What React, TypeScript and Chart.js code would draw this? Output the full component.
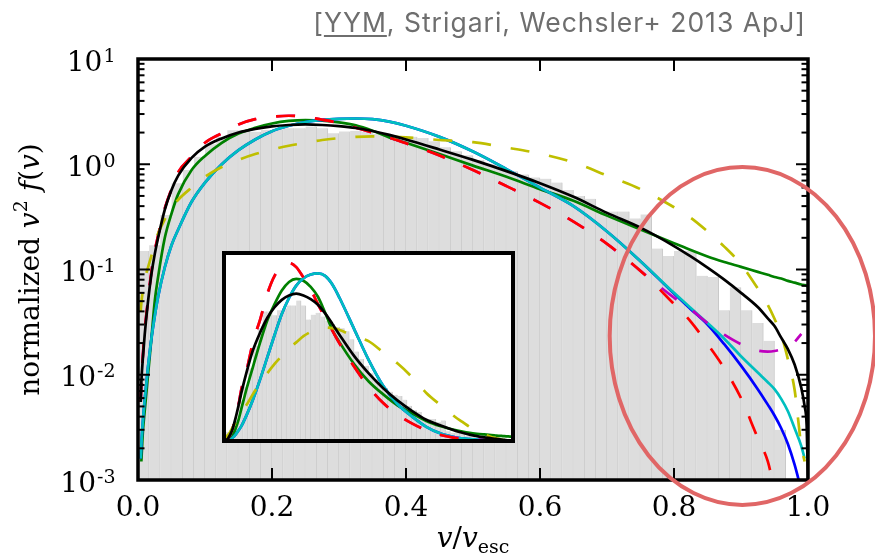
import { useEffect, useRef } from 'react';
import { Chart, registerables } from 'chart.js';

Chart.register(...registerables);

// ---- Halo speed distribution: histogram of normalized v^2 f(v), 60 equal bins on [0, 1] ----
const BIN_COUNT = 60;
const HIST = [
  0.15, 0.17, 0.33, 0.66, 0.88, 1.18, 1.55, 1.83, 2.1, 2.1,
  2.04, 2.12, 2.15, 2.2, 2.2, 2.28, 2.2, 1.97, 2.05, 2.08,
  2.02, 1.95, 1.9, 1.85, 1.83, 1.78, 1.65, 1.45, 1.33, 1.22,
  1.1, 1.0, 0.93, 0.86, 0.8, 0.75, 0.73, 0.67, 0.57, 0.5,
  0.47, 0.355, 0.355, 0.355, 0.306, 0.334, 0.158, 0.134, 0.15, 0.15,
  0.087, 0.085, 0.041, 0.068, 0.041, 0.031, 0.021, 0.003, 0, 0,
];

// ---- Model curves, sampled at v / v_esc ----
const V = [
  0.004, 0.005, 0.0075, 0.01, 0.015, 0.02, 0.025, 0.03, 0.04, 0.05,
  0.06, 0.08, 0.1, 0.125, 0.15, 0.175, 0.2, 0.225, 0.25, 0.275,
  0.3, 0.325, 0.35, 0.375, 0.4, 0.45, 0.5, 0.55, 0.6, 0.65,
  0.7, 0.75, 0.8, 0.825, 0.85, 0.875, 0.9, 0.925, 0.94, 0.95,
  0.96, 0.97, 0.98, 0.99, 0.995, 0.998, 1.0,
];

const BLACK = [
  0.0055, 0.0085, 0.015, 0.024, 0.05, 0.09, 0.14, 0.2, 0.37, 0.57,
  0.78, 1.15, 1.47, 1.76, 2.0, 2.17, 2.29, 2.36, 2.39, 2.36,
  2.3, 2.21, 2.07, 1.9, 1.72, 1.38, 1.1, 0.86, 0.66, 0.49,
  0.345, 0.25, 0.167, 0.133, 0.104, 0.08, 0.06, 0.044, 0.0343, 0.029,
  0.0225, 0.0175, 0.0125, 0.0075, 0.005, 0.0033, 0.001,
];

const RED = [
  0.0055, 0.0085, 0.016, 0.026, 0.052, 0.095, 0.15, 0.21, 0.38, 0.58,
  0.84, 1.18, 1.6, 1.97, 2.39, 2.68, 2.82, 2.89, 2.82, 2.65,
  2.46, 2.22, 2.0, 1.79, 1.58, 1.21, 0.88, 0.62, 0.43, 0.285,
  0.175, 0.097, 0.047, 0.032, 0.0196, 0.0115, 0.006, 0.0025, 0.0015, 0.0008,
  null, null, null, null, null, null, null,
];

const MAGENTA = [
  0.0055, 0.0085, 0.016, 0.026, 0.052, 0.095, 0.15, 0.21, 0.38, 0.58,
  0.84, 1.18, 1.6, 1.97, 2.39, 2.68, 2.82, 2.89, 2.82, 2.65,
  2.46, 2.22, 2.0, 1.79, 1.58, 1.21, 0.88, 0.62, 0.43, 0.285,
  0.175, 0.097, 0.054, 0.042, 0.031, 0.024, 0.0195, 0.017, 0.0166, 0.0168,
  0.0174, 0.018, 0.0205, 0.0245, null, null, null,
];

const CYAN = [
  0.0016, 0.0022, 0.0038, 0.0058, 0.012, 0.022, 0.036, 0.055, 0.105, 0.17,
  0.24, 0.44, 0.67, 1.0, 1.36, 1.72, 2.06, 2.32, 2.52, 2.64,
  2.7, 2.72, 2.68, 2.54, 2.32, 1.82, 1.32, 0.9, 0.6, 0.4,
  0.23, 0.12, 0.06, 0.043, 0.031, 0.022, 0.015, 0.0105, 0.0085, 0.0073,
  0.0059, 0.0045, 0.0031, 0.0021, 0.0016, null, null,
];

const BLUE = [
  0.0016, 0.0022, 0.0038, 0.0058, 0.012, 0.022, 0.036, 0.055, 0.105, 0.17,
  0.24, 0.44, 0.67, 1.0, 1.36, 1.72, 2.06, 2.32, 2.52, 2.64,
  2.7, 2.72, 2.68, 2.54, 2.32, 1.82, 1.32, 0.9, 0.6, 0.4,
  0.23, 0.12, 0.059, 0.042, 0.03, 0.0195, 0.0122, 0.0073, 0.0052, 0.0041,
  0.0031, 0.0022, 0.0014, 0.0008, null, null, null,
];

const GREEN = [
  null, 0.0015, 0.003, 0.0045, 0.01, 0.022, 0.05, 0.085, 0.2, 0.34,
  0.52, 0.88, 1.2, 1.6, 1.96, 2.22, 2.44, 2.58, 2.63, 2.6,
  2.5, 2.34, 2.08, 1.8, 1.6, 1.25, 0.97, 0.76, 0.58, 0.45,
  0.325, 0.24, 0.178, 0.153, 0.133, 0.118, 0.106, 0.095, 0.089, 0.085,
  0.082, 0.078, 0.075, 0.072, 0.071, 0.07, 0.069,
];

const YELLOW = [
  0.04, 0.048, 0.065, 0.08, 0.105, 0.135, 0.18, 0.22, 0.3, 0.38,
  0.46, 0.6, 0.76, 0.94, 1.1, 1.25, 1.38, 1.5, 1.6, 1.7,
  1.77, 1.82, 1.84, 1.83, 1.8, 1.7, 1.62, 1.44, 1.26, 1.04,
  0.78, 0.58, 0.39, 0.31, 0.23, 0.165, 0.112, 0.066, 0.046, 0.034,
  0.024, 0.014, 0.0072, 0.0021, 0.0015, null, null,
];

// ---- Axes ----
const X_TICKS = [0, 0.2, 0.4, 0.6, 0.8, 1.0];
const X_TICK_LABELS = ['0.0', '0.2', '0.4', '0.6', '0.8', '1.0'];
const Y_DECADES = [1, 0, -1, -2, -3];
const Y_DECADE_LABELS = ['1', '0', '-1', '-2', '-3'];
const INSET_Y_MAX = 3.05;

// Highlighted tail region (data coordinates of the bounding box)
const HIGHLIGHT = { vMin: 0.704, vMax: 1.1, yMin: 0.00058, yMax: 0.94 };

const TITLE_AUTHOR = 'YYM';
const TITLE_REST = ', Strigari, Wechsler+ 2013 ApJ]';

const SERIF = '"DejaVu Serif", serif';

function curve(values: (number | null)[], color: string, dashed = false) {
  return {
    type: 'line' as const,
    data: V.map((v, i) => ({ x: v, y: values[i] })),
    borderColor: color,
    borderWidth: 2.7,
    borderDash: dashed ? [19, 20] : [],
    pointRadius: 0,
    fill: false,
    cubicInterpolationMode: 'monotone' as const,
    spanGaps: false,
  };
}

function histogram() {
  return {
    type: 'bar' as const,
    data: HIST.map((h, i) => ({ x: (i + 0.5) / BIN_COUNT, y: h })).filter((p) => p.y > 0),
    backgroundColor: '#dddddd',
    borderColor: '#c9c9c9',
    borderWidth: { top: 0, bottom: 0, left: 0, right: 1 },
    borderSkipped: false,
    barPercentage: 1,
    categoryPercentage: 1,
    grouped: false,
  };
}

// first dataset is drawn on top
function datasets() {
  return [
    curve(BLACK, '#000000'),
    curve(YELLOW, '#bfbf00', true),
    curve(RED, '#ff0000', true),
    curve(MAGENTA, '#bf00bf', true),
    curve(CYAN, '#00bfbf'),
    curve(BLUE, '#0000ff'),
    curve(GREEN, '#008000'),
    histogram(),
  ];
}

type Piece = { t: string; f: string; dy?: number };

function drawPieces(ctx: CanvasRenderingContext2D, pieces: Piece[], cx: number, baseY: number) {
  let total = 0;
  const widths = pieces.map((p) => {
    ctx.font = p.f;
    const w = ctx.measureText(p.t).width;
    total += w;
    return w;
  });
  let x = cx - total / 2;
  ctx.textAlign = 'left';
  ctx.textBaseline = 'alphabetic';
  pieces.forEach((p, i) => {
    ctx.font = p.f;
    ctx.fillText(p.t, x, baseY + (p.dy || 0));
    x += widths[i];
  });
}

const mainDecor = {
  id: 'mainDecor',
  afterDraw(chart: any) {
    const ctx: CanvasRenderingContext2D = chart.ctx;
    const xs = chart.scales.x;
    const ys = chart.scales.y;
    const { left, right, top, bottom } = chart.chartArea;
    ctx.save();
    ctx.strokeStyle = '#000';
    ctx.fillStyle = '#000';
    ctx.lineCap = 'butt';

    const seg = (x1: number, y1: number, x2: number, y2: number) => {
      ctx.beginPath();
      ctx.moveTo(x1, y1);
      ctx.lineTo(x2, y2);
      ctx.stroke();
    };

    // ticks pointing inwards on all four sides
    ctx.lineWidth = 2;
    X_TICKS.forEach((v) => {
      const px = xs.getPixelForValue(v);
      seg(px, bottom, px, bottom - 12);
      seg(px, top, px, top + 12);
    });
    Y_DECADES.forEach((e) => {
      const py = ys.getPixelForValue(Math.pow(10, e));
      seg(left, py, left + 12, py);
      seg(right, py, right - 12, py);
      if (e < 1) {
        for (let m = 2; m <= 9; m++) {
          const pm = ys.getPixelForValue(m * Math.pow(10, e));
          seg(left, pm, left + 6.5, pm);
          seg(right, pm, right - 6.5, pm);
        }
      }
    });

    // frame
    ctx.lineWidth = 3.5;
    ctx.strokeRect(left, top, right - left, bottom - top);

    // x tick labels
    ctx.font = `28px ${SERIF}`;
    ctx.textAlign = 'center';
    ctx.textBaseline = 'alphabetic';
    X_TICKS.forEach((v, i) => {
      ctx.fillText(X_TICK_LABELS[i], xs.getPixelForValue(v), bottom + 36);
    });

    // y tick labels: 10 with a raised exponent
    const labelRight = left - 22.5;
    Y_DECADES.forEach((e, i) => {
      const py = ys.getPixelForValue(Math.pow(10, e));
      ctx.textAlign = 'right';
      ctx.font = `19px ${SERIF}`;
      const expText = Y_DECADE_LABELS[i];
      const ew = ctx.measureText(expText).width;
      ctx.fillText(expText, labelRight, py + 2.5);
      ctx.font = `28px ${SERIF}`;
      ctx.fillText('10', labelRight - ew - 1, py + 11.5);
    });

    // axis titles
    drawPieces(
      ctx,
      [
        { t: 'v', f: `italic 28px ${SERIF}` },
        { t: '/', f: `28px ${SERIF}` },
        { t: 'v', f: `italic 28px ${SERIF}` },
        { t: 'esc', f: `19px ${SERIF}`, dy: 6 },
      ],
      (left + right) / 2,
      547
    );

    ctx.save();
    ctx.translate(38.5, (top + bottom) / 2);
    ctx.rotate(-Math.PI / 2);
    drawPieces(
      ctx,
      [
        { t: 'normalized ', f: `28px ${SERIF}` },
        { t: 'v', f: `italic 28px ${SERIF}` },
        { t: '2', f: `19px ${SERIF}`, dy: -12 },
        { t: ' ', f: `28px ${SERIF}` },
        { t: 'f', f: `italic 28px ${SERIF}` },
        { t: '(', f: `28px ${SERIF}` },
        { t: 'v', f: `italic 28px ${SERIF}` },
        { t: ')', f: `28px ${SERIF}` },
      ],
      0,
      0
    );
    ctx.restore();

    // highlighted tail region
    const x1 = xs.getPixelForValue(HIGHLIGHT.vMin);
    const x2 = xs.getPixelForValue(HIGHLIGHT.vMax);
    const y1 = ys.getPixelForValue(HIGHLIGHT.yMax);
    const y2 = ys.getPixelForValue(HIGHLIGHT.yMin);
    ctx.beginPath();
    ctx.ellipse((x1 + x2) / 2, (y1 + y2) / 2, (x2 - x1) / 2, (y2 - y1) / 2, 0, 0, Math.PI * 2);
    ctx.strokeStyle = '#e06666';
    ctx.lineWidth = 4;
    ctx.stroke();

    ctx.restore();
  },
};

const insetDecor = {
  id: 'insetDecor',
  beforeDatasetsDraw(chart: any) {
    const ctx: CanvasRenderingContext2D = chart.ctx;
    const { left, right, top, bottom } = chart.chartArea;
    ctx.save();
    ctx.fillStyle = '#ffffff';
    ctx.fillRect(left, top, right - left, bottom - top);
    ctx.restore();
  },
  afterDraw(chart: any) {
    const ctx: CanvasRenderingContext2D = chart.ctx;
    const { left, right, top, bottom } = chart.chartArea;
    ctx.save();
    ctx.strokeStyle = '#000';
    ctx.lineWidth = 4;
    ctx.strokeRect(left, top, right - left, bottom - top);
    ctx.restore();
  },
};

export default function App() {
  const mainRef = useRef<HTMLCanvasElement>(null);
  const insetRef = useRef<HTMLCanvasElement>(null);

  useEffect(() => {
    document.body.style.margin = '0';
    const common = {
      animation: false as const,
      responsive: false,
      devicePixelRatio: 1,
      events: [] as any[],
      plugins: { legend: { display: false }, tooltip: { enabled: false } },
    };

    const main = new Chart(mainRef.current as HTMLCanvasElement, {
      type: 'bar',
      data: { datasets: datasets() as any },
      options: {
        ...common,
        layout: { padding: { left: 138, top: 59, right: 67, bottom: 80 } },
        scales: {
          x: { type: 'linear', min: 0, max: 1, offset: false, display: false },
          y: { type: 'logarithmic', min: 0.001, max: 10, display: false },
        },
      } as any,
      plugins: [mainDecor],
    });

    const inset = new Chart(insetRef.current as HTMLCanvasElement, {
      type: 'bar',
      data: { datasets: datasets() as any },
      options: {
        ...common,
        layout: { padding: { left: 10, top: 10, right: 10, bottom: 10 } },
        scales: {
          x: { type: 'linear', min: 0, max: 1, offset: false, display: false },
          y: { type: 'linear', min: 0, max: INSET_Y_MAX, display: false },
        },
      } as any,
      plugins: [insetDecor],
    });

    return () => {
      main.destroy();
      inset.destroy();
    };
  }, []);

  return (
    <div style={{ position: 'relative', width: 875, height: 560, background: '#ffffff', overflow: 'hidden' }}>
      <canvas ref={mainRef} width={875} height={560} style={{ position: 'absolute', left: 0, top: 0, width: 875, height: 560 }} />
      <canvas ref={insetRef} width={309} height={208} style={{ position: 'absolute', left: 214, top: 243, width: 309, height: 208 }} />
      <div
        style={{
          position: 'absolute',
          left: 0,
          top: 8,
          width: 806,
          textAlign: 'right',
          fontFamily: 'Inter, sans-serif',
          fontSize: 26.5,
          letterSpacing: '1px',
          lineHeight: '28px',
          color: '#6e6e6e',
          whiteSpace: 'nowrap',
        }}
      >
        [<span style={{ textDecoration: 'underline', textUnderlineOffset: 3 }}>{TITLE_AUTHOR}</span>
        {TITLE_REST}
      </div>
    </div>
  );
}
